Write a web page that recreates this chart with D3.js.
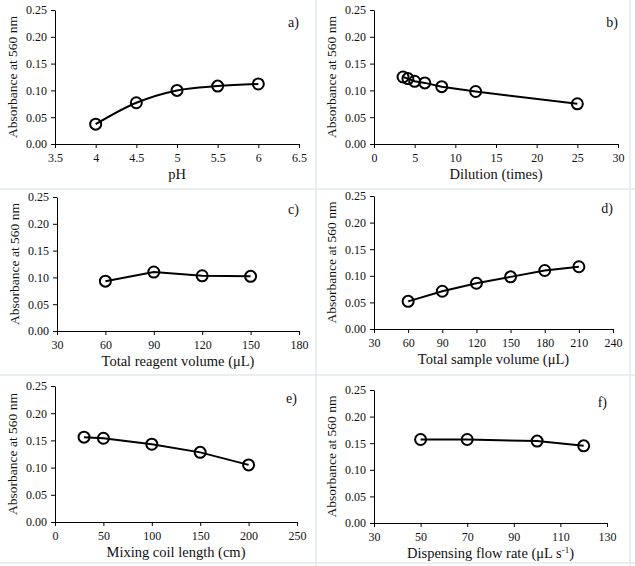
<!DOCTYPE html>
<html><head><meta charset="utf-8">
<script src="https://cdn.jsdelivr.net/npm/d3@7"></script>
<style>
body{margin:0;background:#fff;}
svg{display:block;font-family:"Liberation Serif","Times New Roman",serif;}
</style></head>
<body>
<svg id="c" width="635" height="566"></svg>
<script>
// ---- data ----
const phX = [4, 4.5, 5, 5.5, 6];
const phY = [0.037, 0.077, 0.100, 0.108, 0.112];
const dilX = [3.57, 4.17, 5, 6.25, 8.33, 12.5, 25];
const dilY = [0.125, 0.122, 0.117, 0.114, 0.107, 0.098, 0.075];
const reagX = [60, 90, 120, 150];
const reagY = [0.093, 0.110, 0.103, 0.102];
const sampX = [60, 90, 120, 150, 180, 210];
const sampY = [0.052, 0.071, 0.086, 0.098, 0.110, 0.117];
const coilX = [30, 50, 100, 150, 200];
const coilY = [0.156, 0.154, 0.143, 0.128, 0.105];
const flowX = [50, 70, 100, 120];
const flowY = [0.157, 0.157, 0.154, 0.145];
const yTicks = [0, 0.05, 0.10, 0.15, 0.20, 0.25];
const yTickLabels = ["0.00", "0.05", "0.10", "0.15", "0.20", "0.25"];
const phTicks = [3.5, 4, 4.5, 5, 5.5, 6, 6.5];
const phTickLabels = ["3.5", "4", "4.5", "5", "5.5", "6", "6.5"];
const dilTicks = [0, 5, 10, 15, 20, 25, 30];
const reagTicks = [30, 60, 90, 120, 150, 180];
const sampTicks = [30, 60, 90, 120, 150, 180, 210, 240];
const coilTicks = [0, 50, 100, 150, 200, 250];
const flowTicks = [30, 50, 70, 90, 110, 130];
const yTitle = "Absorbance at 560 nm";

const svg = d3.select("#c");
const FONT = '"Liberation Serif","Times New Roman",serif';

// panel frame lines
const frameColor = "#e2e8ec";
[[316, 0, 316, 566], [630, 0, 630, 566], [0, 189, 635, 189], [0, 375, 635, 375], [0, 563, 635, 563]]
  .forEach(l => svg.append("line").attr("x1", l[0]).attr("y1", l[1]).attr("x2", l[2]).attr("y2", l[3])
    .attr("stroke", frameColor).attr("stroke-width", 1.5));

const panels = [
  {x: phX, y: phY, ticks: phTicks, labels: phTickLabels, title: "pH", tag: "a)", box: [55, 299, 10, 144], smooth: true},
  {x: dilX, y: dilY, ticks: dilTicks, title: "Dilution (times)", tag: "b)", box: [374, 618, 10, 144]},
  {x: reagX, y: reagY, ticks: reagTicks, title: "Total reagent volume (\u03bcL)", tag: "c)", box: [57, 299, 197, 331]},
  {x: sampX, y: sampY, ticks: sampTicks, title: "Total sample volume (\u03bcL)", tag: "d)", box: [374, 613, 196, 329]},
  {x: coilX, y: coilY, ticks: coilTicks, title: "Mixing coil length (cm)", tag: "e)", box: [55, 297, 386, 522]},
  {x: flowX, y: flowY, ticks: flowTicks, title: "Dispensing flow rate (\u03bcL s", sup: "-1", tail: ")", tag: "f)", box: [374, 607, 390, 523]}
];

panels.forEach(p => {
  const [l, r, t, b] = p.box;
  const xs = d3.scaleLinear().domain([p.ticks[0], p.ticks[p.ticks.length - 1]]).range([l, r]);
  const ys = d3.scaleLinear().domain([0, 0.25]).range([b, t]);
  const g = svg.append("g").style("font-family", FONT);

  const xa = g.append("g").attr("transform", `translate(0,${b})`)
    .call(d3.axisBottom(xs).tickValues(p.ticks).tickSize(4).tickSizeOuter(0)
      .tickFormat((d, i) => p.labels ? p.labels[i] : String(d)));
  const ya = g.append("g").attr("transform", `translate(${l},0)`)
    .call(d3.axisLeft(ys).tickValues(yTicks).tickSize(4).tickSizeOuter(0)
      .tickFormat((d, i) => yTickLabels[i]));
  [xa, ya].forEach(a => {
    a.attr("font-family", null);
    a.selectAll("path,line").attr("stroke", "#000").attr("stroke-width", 1);
    a.selectAll("text").attr("fill", "#111").style("font-size", "12px").style("font-family", FONT);
  });
  xa.selectAll("text").attr("dy", "0.71em").attr("y", 9);
  ya.selectAll("text").attr("x", -8);

  // x title
  const xt = g.append("text").attr("x", (l + r) / 2).attr("y", b + 35).attr("text-anchor", "middle")
    .style("font-size", "14.5px").attr("fill", "#111").text(p.title);
  if (p.sup) {
    xt.append("tspan").attr("baseline-shift", "super").style("font-size", "9px").text(p.sup);
    xt.append("tspan").text(p.tail);
  }
  // y title
  g.append("text").attr("transform", `translate(${l - 43},${(t + b) / 2}) rotate(-90)`)
    .attr("text-anchor", "middle").attr("dy", "0.35em").style("font-size", "13.5px").attr("fill", "#111").text(yTitle);
  // tag
  g.append("text").attr("x", r).attr("y", t + 17).attr("text-anchor", "end")
    .style("font-size", "14px").attr("fill", "#111").text(p.tag);

  const pts = p.x.map((v, i) => [xs(v), ys(p.y[i])]);
  const line = d3.line().curve(p.smooth ? d3.curveCatmullRom.alpha(0.5) : d3.curveLinear);
  g.append("path").attr("d", line(pts)).attr("fill", "none").attr("stroke", "#000").attr("stroke-width", 2);
  g.selectAll("circle.m").data(pts).join("circle").attr("class", "m")
    .attr("cx", d => d[0]).attr("cy", d => d[1]).attr("r", 5.5)
    .attr("fill", "none").attr("stroke", "#000").attr("stroke-width", 2);
});
</script>
</body></html>
